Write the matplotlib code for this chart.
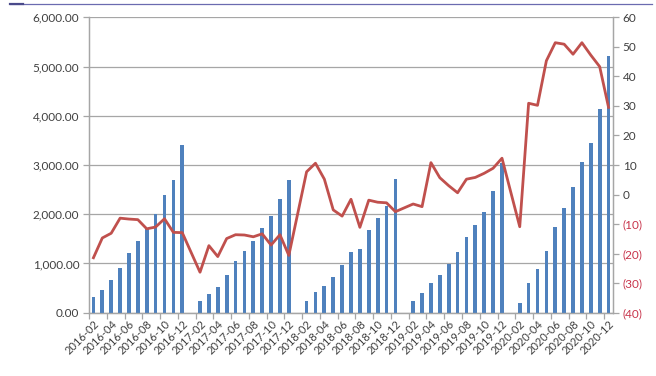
import matplotlib
matplotlib.use("Agg")
import matplotlib.pyplot as plt
import numpy as np
from matplotlib.lines import Line2D

years = [2016, 2017, 2018, 2019, 2020]

# monthly values Feb..Dec (January not reported)
sales_2016 = [325, 467, 671, 908, 1207, 1457, 1722, 2000, 2392, 2691, 3415]
sales_2017 = [232, 386, 522, 766, 1057, 1260, 1457, 1722, 1965, 2317, 2691]
sales_2018 = [244, 414, 549, 719, 969, 1227, 1301, 1681, 1918, 2175, 2717]
sales_2019 = [244, 394, 597, 766, 990, 1234, 1532, 1782, 2053, 2474, 3036]
sales_2020 = [203, 597, 882, 1260, 1736, 2134, 2555, 3069, 3455, 4140, 5224]

growth_2016 = [-21.4, -14.7, -13.1, -8.0, -8.3, -8.5, -11.6, -11.0, -8.2, -12.8, -12.9]
growth_2017 = [-26.3, -17.3, -21.0, -14.9, -13.6, -13.7, -14.3, -13.3, -17.1, -13.6, -20.6]
growth_2018 = [7.7, 10.6, 5.2, -5.2, -7.3, -1.6, -11.1, -1.9, -2.6, -2.8, -5.8]
growth_2019 = [-3.2, -4.1, 10.8, 5.7, 3.0, 0.6, 5.2, 5.8, 7.2, 8.9, 12.3]
growth_2020 = [-10.9, 30.9, 30.2, 45.3, 51.4, 50.9, 47.5, 51.4, 47.2, 43.3, 29.5]

sales = [sales_2016, sales_2017, sales_2018, sales_2019, sales_2020]
growth = [growth_2016, growth_2017, growth_2018, growth_2019, growth_2020]

# category axis: every month from 2016-02 to 2020-12
months = [f"{y}-{m:02d}" for y in years for m in range(1, 13)][1:]
n = len(months)

# positions of Feb..Dec in the category axis
xs = []
for k in range(len(years)):
    xs.extend(range(12 * k, 12 * k + 11))
xs = np.array(xs)
bar_vals = np.concatenate(sales)
line_vals = np.concatenate(growth)

plt.rcParams['font.family'] = ['Lato', 'DejaVu Sans']

fig = plt.figure(figsize=(6.56, 3.76), dpi=100)
ax = fig.add_axes([89 / 656, 1 - 312.7 / 376, (613 - 89) / 656, (312.7 - 17.3) / 376])

ax.bar(xs, bar_vals, width=0.42, color='#4F81BD', zorder=3)
ax.set_xlim(-0.5, n - 0.5)
ax.set_ylim(0, 6000)
ax.set_yticks(np.arange(0, 6001, 1000))
ax.set_yticklabels([f"{v:,.2f}" for v in np.arange(0, 6001, 1000)])
ax.grid(axis='y', color='#A6A6A6', lw=0.9, zorder=0)

ax.set_xticks(np.arange(0, n, 2))
ax.set_xticklabels(months[::2], rotation=45, ha='right', rotation_mode='anchor')
ax.set_xticks(np.arange(-0.5, n, 2), minor=True)
ax.tick_params(axis='x', which='major', length=0, pad=4, labelsize=8, labelcolor='#404040')
ax.tick_params(axis='x', which='minor', length=4, color='#A6A6A6', width=0.9)
ax.tick_params(axis='y', length=4, color='#A6A6A6', width=0.9, labelsize=8.5, labelcolor='#404040', pad=3)

ax2 = ax.twinx()
ax2.plot(xs, line_vals, color='#C0504D', lw=2, zorder=4)
ax2.set_ylim(-40, 60)
ticks2 = np.arange(-40, 61, 10)
ax2.set_yticks(ticks2)
ax2.set_yticklabels([f"({abs(v)})" if v < 0 else f"{v}" for v in ticks2])
ax2.tick_params(axis='y', length=4, color='#A6A6A6', width=0.9, labelsize=8.5, pad=3)
for lab, v in zip(ax2.get_yticklabels(), ticks2):
    lab.set_color('#C8334A' if v < 0 else '#404040')

for a in (ax, ax2):
    a.spines['top'].set_visible(False)
    for s in ('left', 'right', 'bottom'):
        a.spines[s].set_color('#A6A6A6')
        a.spines[s].set_linewidth(0.9)

# thin border line at the top of the slide
fig.add_artist(Line2D([10 / 656, 652 / 656], [1 - 4.3 / 376] * 2, color='#6B6BB0', lw=0.9))
fig.add_artist(Line2D([10 / 656, 23 / 656], [1 - 4.3 / 376] * 2, color='#4A4A8A', lw=1.6))

fig.savefig('out.png', dpi=100)
